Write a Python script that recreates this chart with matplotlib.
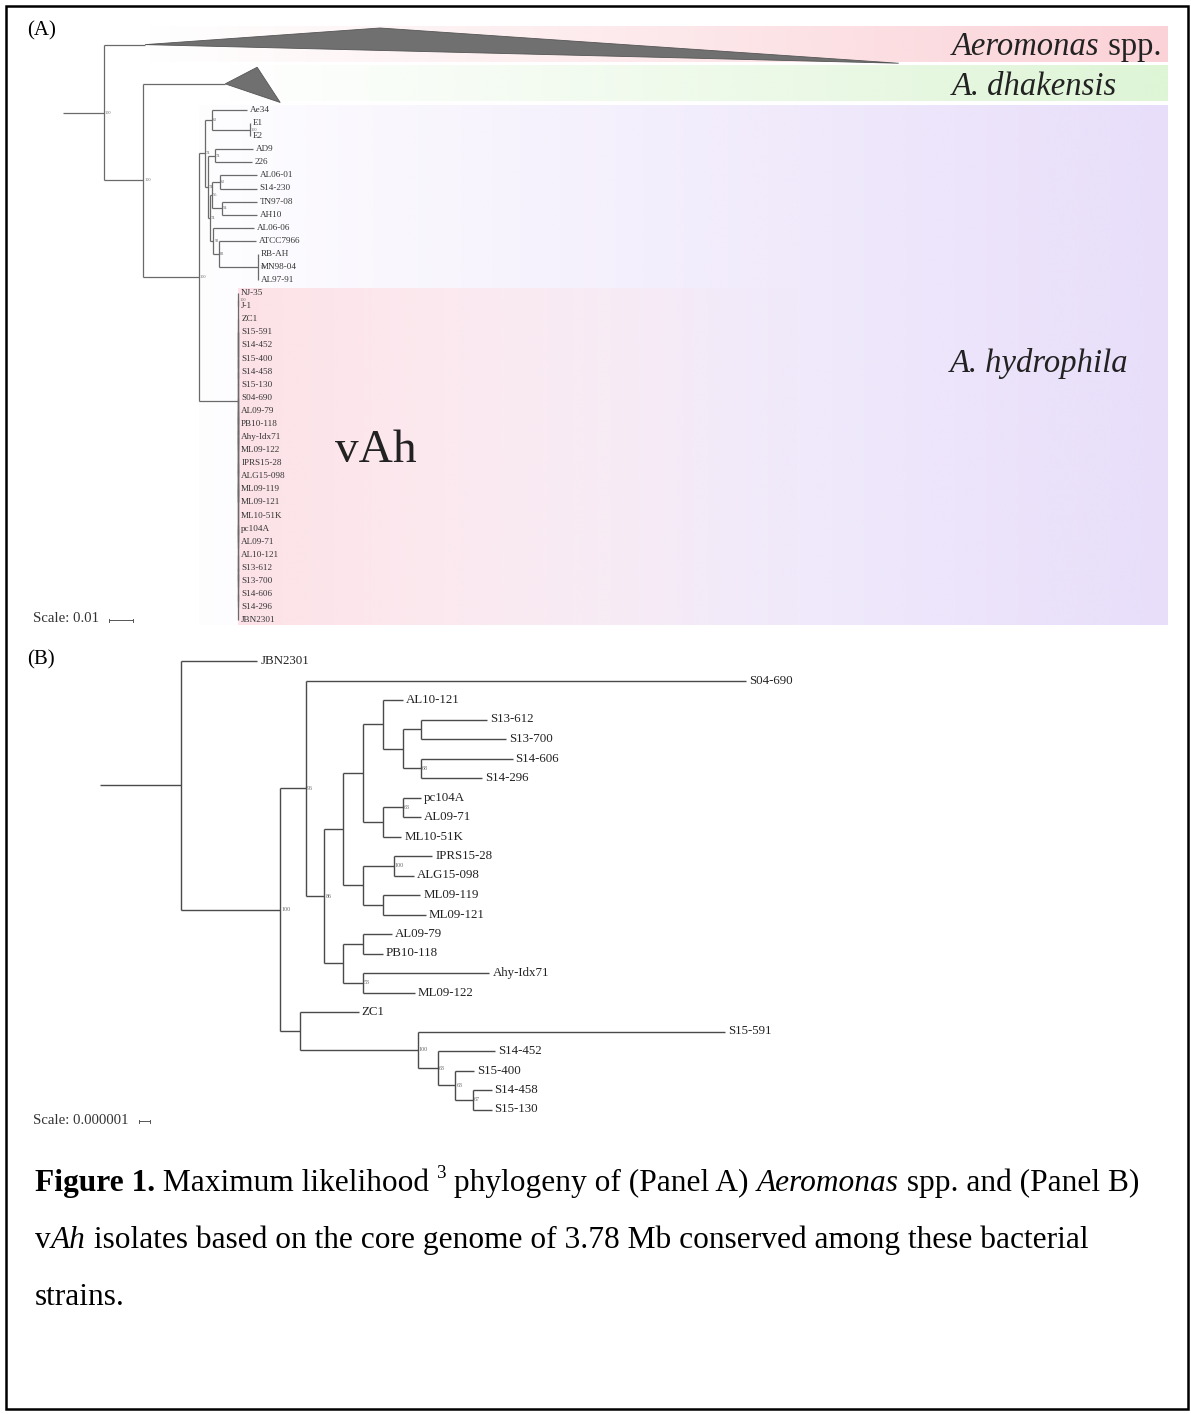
import numpy as np
import matplotlib
matplotlib.use("Agg")
import matplotlib.pyplot as plt
from matplotlib.collections import LineCollection
from matplotlib.patches import Polygon, Rectangle
from matplotlib.font_manager import FontProperties

SERIF = "Liberation Serif"

# ---- Panel A: core-genome ML tree, branch lengths in units of 0.01 subs/site
tree_a = ("(Aeromonas_spp:1.71,(A_dhakensis:3.42,"
          "(((Ae34:1.46,(E1,E2)100:1.58)62:0.29,((AD9:1.58,226:1.54)74:0.29,"
          "(((AL06-01:1.54,S14-230:1.54)62:0.33,(TN97-08:1.46,AH10:1.46)54:0.42)55:0.08,"
          "(AL06-06:1.69,(ATCC7966:1.54,(RB-AH,MN98-04,AL97-91)100:1.63)83:0.23)93:0.15)74:0.08)74:0.12)74:0.25,"
          "((NJ-35,J-1)100,(((ZC1,(S15-591,(S14-452,(S15-400,(S14-458,S15-130))))),"
          "(S04-690,(((AL09-79,PB10-118),(Ahy-Idx71,ML09-122)),(((IPRS15-28,ALG15-098),(ML09-119,ML09-121)),"
          "((ML10-51K,(pc104A,AL09-71)),(AL10-121,((S13-612,S13-700),(S14-606,S14-296)))))))),JBN2301)):1.63"
          ")100:2.33)100:1.63)100:1.71;")

# collapsed clades drawn as triangles (rows taken, shallowest / deepest tip)
collapsed = ["Aeromonas_spp", "A_dhakensis"]
collapsed_rows = [3, 3]
collapsed_min = [9.79, 1.33]
collapsed_max = [31.4, 2.29]

# highlighted clades (first / last tip of each)
band_first = ["Aeromonas_spp", "A_dhakensis", "Ae34", "NJ-35"]
band_last = ["Aeromonas_spp", "A_dhakensis", "JBN2301", "JBN2301"]
band_rgb = [(251, 210, 215), (222, 245, 214), (232, 222, 250), (253, 226, 231)]
band_alpha = [(0.0, 1.0), (0.0, 1.0), (0.05, 1.0), (1.0, 0.0)]

# ---- Panel B: vAh isolates, branch lengths in units of 0.000001 subs/site
tree_b = ("(JBN2301:6.9,((S04-690:40.0,((((AL10-121:1.8,((S13-612:6.0,S13-700:7.7):1.7,"
          "(S14-606:8.3,S14-296:5.5)68:1.7):1.8):1.8,((pc104A:1.7,AL09-71:1.7)63:1.8,ML10-51K:1.7):1.8):1.8,"
          "((IPRS15-28:3.5,ALG15-098:1.8)100:2.8,(ML09-119:3.4,ML09-121:3.9):1.8):1.8):1.7,"
          "((AL09-79:2.6,PB10-118:1.8):1.8,(Ahy-Idx71:11.5,ML09-122:4.7)53:1.8):1.7)86:1.7)96:2.3,"
          "(ZC1:5.3,(S15-591:27.9,(S14-452:5.2,(S15-400:1.7,(S14-458:1.7,S15-130:1.7)67:1.6)63:1.6)63:1.8)100:10.7)"
          ":1.8)100:9.0):7.4;")

scale_a = "0.01"
scale_b = "0.000001"

caption = [
    [("Figure 1.", "b"), (" Maximum likelihood ", "n"), ("3", "sup"),
     (" phylogeny of (Panel A) ", "n"), ("Aeromonas", "i"), (" spp. and (Panel B)", "n")],
    [("v", "n"), ("Ah", "i"),
     (" isolates based on the core genome of 3.78 Mb conserved among these bacterial", "n")],
    [("strains.", "n")],
]


def parse(s):
    s = s.strip().rstrip(";")
    pos = 0

    def read_until(stops):
        nonlocal pos
        start = pos
        while pos < len(s) and s[pos] not in stops:
            pos += 1
        return s[start:pos]

    def node():
        nonlocal pos
        n = {"kids": [], "name": "", "len": 0.0, "bs": ""}
        if s[pos] == "(":
            pos += 1
            while True:
                n["kids"].append(node())
                if s[pos] == ",":
                    pos += 1
                else:
                    pos += 1  # ')'
                    break
            n["bs"] = read_until(":,()")
        else:
            n["name"] = read_until(":,()")
        if pos < len(s) and s[pos] == ":":
            pos += 1
            n["len"] = float(read_until(",()"))
        return n

    return node()


def walk(n):
    yield n
    for k in n["kids"]:
        yield from walk(k)


def tips(n):
    return [m["name"] for m in walk(n) if not m["kids"]]


def mrca(root, a, b):
    best = None
    for n in walk(root):
        t = tips(n)
        if a in t and b in t and (best is None or len(t) < len(tips(best))):
            best = n
    return best


def place(root, x0, y0, row_h, unit, spans):
    row = [0.0]

    def go(n, px):
        n["px"] = px
        n["x"] = px + n["len"] * unit
        if n["kids"]:
            for k in n["kids"]:
                go(k, n["x"])
            n["y"] = 0.5 * (n["kids"][0]["y"] + n["kids"][-1]["y"])
            n["top"] = n["kids"][0]["top"]
            n["bot"] = n["kids"][-1]["bot"]
        else:
            sp = spans.get(n["name"], 1)
            n["top"] = y0 + row[0] * row_h
            n["bot"] = n["top"] + sp * row_h
            n["y"] = 0.5 * (n["top"] + n["bot"])
            row[0] += sp

    go(root, x0)


fig = plt.figure(figsize=(11.91, 14.14), dpi=100)
ax = fig.add_axes([0, 0, 1, 1])
renderer = fig.canvas.get_renderer()


def text_w(txt, prop):
    w1 = renderer.get_text_width_height_descent(txt + "|", prop, ismath=False)[0]
    w2 = renderer.get_text_width_height_descent("|", prop, ismath=False)[0]
    return w1 - w2


def runs(x, y, parts, size, color="black"):
    for txt, st in parts:
        sz = size * 0.6 if st == "sup" else size
        prop = FontProperties(family=SERIF, size=sz,
                              weight="bold" if st == "b" else "normal",
                              style="italic" if st == "i" else "normal")
        yy = y - size * 0.42 * 100 / 72 if st == "sup" else y
        ax.text(x, yy, txt, fontproperties=prop, color=color, va="baseline", ha="left", zorder=5)
        x += text_w(txt, prop)
    return x


def draw_tree(root, unit, lw, lcolor, tip_fs, tip_color, bs_fs, tri=None):
    segs = []
    for n in walk(root):
        segs.append([(n["px"], n["y"]), (n["x"], n["y"])])
        if n["kids"]:
            segs.append([(n["x"], n["kids"][0]["y"]), (n["x"], n["kids"][-1]["y"])])
            if n["bs"]:
                ax.text(n["x"] + 1, n["y"], n["bs"], family=SERIF, fontsize=bs_fs,
                        color="#666666", va="center", ha="left", zorder=4)
        elif tri and n["name"] in tri:
            i = tri.index(n["name"])
            verts = [(n["x"], n["y"]),
                     (n["x"] + collapsed_min[i] * unit, n["top"] + 3),
                     (n["x"] + collapsed_max[i] * unit, n["bot"] - 1)]
            ax.add_patch(Polygon(verts, closed=True, fc="#707070", ec="#555555", lw=0.6, zorder=3))
        else:
            ax.text(n["x"] + 3, n["y"], n["name"], family=SERIF, fontsize=tip_fs,
                    color=tip_color, va="center", ha="left", zorder=4)
    ax.add_collection(LineCollection(segs, colors=lcolor, linewidths=lw, zorder=2))


def scale_bar(x, y, label, length, color="#555555"):
    prop = FontProperties(family=SERIF, size=10.6)
    ax.text(x, y, "Scale: " + label, fontproperties=prop, color="#333333", va="center", ha="left")
    x1 = x + text_w("Scale: " + label, prop) + 10
    ax.plot([x1, x1 + length], [y + 1, y + 1], color=color, lw=0.7)
    ax.plot([x1, x1], [y - 0.5, y + 2.5], color=color, lw=0.7)
    ax.plot([x1 + length, x1 + length], [y - 0.5, y + 2.5], color=color, lw=0.7)


# ---------------- panel A
unit_a = 24.0           # px per 0.01
root_a = parse(tree_a)
place(root_a, 63, 25.0, 13.08, unit_a, dict(zip(collapsed, collapsed_rows)))

band_right = 1168
for first, last, rgb, (a0, a1) in zip(band_first, band_last, band_rgb, band_alpha):
    clade = mrca(root_a, first, last)
    x0, y0, y1 = clade["x"], clade["top"] + 2, clade["bot"] - 2
    img = np.zeros((1, 400, 4))
    img[..., :3] = np.array(rgb) / 255.0
    xs = np.linspace(x0, band_right, 400)
    if a1 >= a0:
        img[0, :, 3] = np.interp(xs, [x0, band_right], [a0, a1])
    else:
        img[0, :, 3] = np.interp(xs, [x0, 800], [a0, a1])
    ax.imshow(img, extent=[x0, band_right, y1, y0], aspect="auto",
              interpolation="bilinear", zorder=1)
    clade["band"] = (y0, y1)

draw_tree(root_a, unit_a, 0.9, "#6a6a6a", 6.6, "#333333", 3.2, tri=collapsed)

label_size = 23.5
em = label_size * 100 / 72
yc = sum(mrca(root_a, "Aeromonas_spp", "Aeromonas_spp")["band"]) / 2
runs(952, yc + 0.33 * em, [("Aeromonas", "i"), (" spp.", "n")], label_size, "#222222")
yc = sum(mrca(root_a, "A_dhakensis", "A_dhakensis")["band"]) / 2
runs(952, yc + 0.33 * em, [("A. dhakensis", "i")], label_size, "#222222")
yc = sum(mrca(root_a, "Ae34", "JBN2301")["band"]) / 2
runs(950, yc + 0.33 * em - 4, [("A. hydrophila", "i")], label_size, "#222222")
yc = sum(mrca(root_a, "NJ-35", "JBN2301")["band"]) / 2
ax.text(335, yc - 6, "vAh", family=SERIF, fontsize=34, color="#222222", va="center", ha="left", zorder=5)

ax.text(27, 31, "(A)", family=SERIF, fontsize=15, va="center", ha="left")
scale_bar(33, 619, scale_a, 1.0 * unit_a)

# ---------------- panel B
unit_b = 11.0           # px per 0.000001
root_b = parse(tree_b)
place(root_b, 100, 651.25, 19.5, unit_b, {})
draw_tree(root_b, unit_b, 1.0, "#4a4a4a", 9.3, "#222222", 4.3)

ax.text(27, 660, "(B)", family=SERIF, fontsize=15, va="center", ha="left")
scale_bar(33, 1120, scale_b, 1.0 * unit_b)

# ---------------- caption
for i, line in enumerate(caption):
    runs(35, 1191 + 57 * i, line, 22.6)

ax.add_patch(Rectangle((6, 6), 1182, 1403, fill=False, ec="black", lw=1.8, zorder=6))

ax.set_xlim(0, 1191)
ax.set_ylim(1414, 0)
ax.axis("off")
fig.savefig("out.png", dpi=100, facecolor="white")
